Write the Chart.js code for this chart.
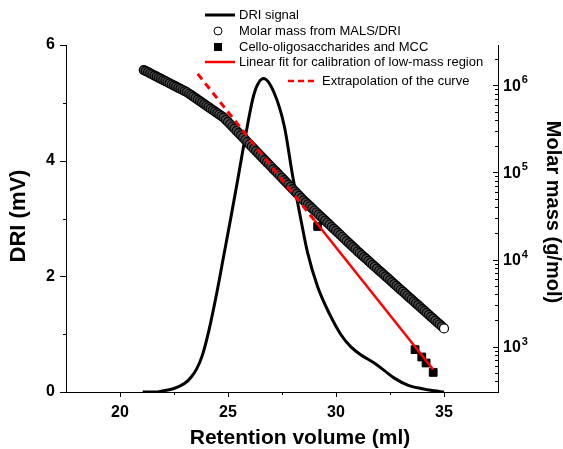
<!DOCTYPE html>
<html>
<head>
<meta charset="utf-8">
<script src="https://cdn.jsdelivr.net/npm/chart.js@4/dist/chart.umd.min.js"></script>
<style>
  body { margin: 0; background: #fff; }
  canvas { display: block; }
</style>
</head>
<body>
<canvas id="gpc-chart" width="563" height="449"></canvas>
<script>
// DRI detector trace (retention volume in ml, signal in mV)
var driX = [21.05, 21.6, 22.0, 22.5, 23.0, 23.3, 23.55, 23.8, 24.12, 24.5, 24.8, 25.1, 25.45, 25.83, 26.22, 26.65,
            27.14, 27.61, 28.0, 28.38, 28.69, 29.15, 29.7, 30.23, 30.69, 31.16, 31.77, 32.24, 32.7, 33.32, 33.94, 34.55, 35.0];
var driY = [0.0, 0.0, 0.02, 0.06, 0.15, 0.26, 0.4, 0.62, 1.07, 1.75, 2.35, 2.95, 3.67, 4.47, 5.17, 5.42,
            5.17, 4.59, 3.72, 2.97, 2.4, 1.82, 1.35, 0.99, 0.78, 0.64, 0.5, 0.37, 0.24, 0.12, 0.06, 0.02, 0.0];

// molar mass from MALS/DRI, stored as log10(g/mol)
var molarX = [
  21.1, 21.2, 21.3, 21.4, 21.5, 21.6, 21.7, 21.8, 21.9, 22.0, 22.1, 22.2, 22.3, 22.4, 22.5, 22.6, 22.7, 22.8, 22.9, 23.0,
  23.1, 23.2, 23.3, 23.4, 23.5, 23.6, 23.7, 23.8, 23.9, 24.0, 24.1, 24.2, 24.3, 24.4, 24.5, 24.6, 24.7, 24.8, 24.9, 25.0,
  25.1, 25.2, 25.3, 25.4, 25.5, 25.6, 25.7, 25.8, 25.9, 26.0, 26.1, 26.2, 26.3, 26.4, 26.5, 26.6, 26.7, 26.8, 26.9, 27.0,
  27.1, 27.2, 27.3, 27.4, 27.5, 27.6, 27.7, 27.8, 27.9, 28.0, 28.1, 28.2, 28.3, 28.4, 28.5, 28.6, 28.7, 28.8, 28.9, 29.0,
  29.1, 29.2, 29.3, 29.4, 29.5, 29.6, 29.7, 29.8, 29.9, 30.0, 30.1, 30.2, 30.3, 30.4, 30.5, 30.6, 30.7, 30.8, 30.9, 31.0,
  31.1, 31.2, 31.3, 31.4, 31.5, 31.6, 31.7, 31.8, 31.9, 32.0, 32.1, 32.2, 32.3, 32.4, 32.5, 32.6, 32.7, 32.8, 32.9, 33.0,
  33.1, 33.2, 33.3, 33.4, 33.5, 33.6, 33.7, 33.8, 33.9, 34.0, 34.1, 34.2, 34.3, 34.4, 34.5, 34.6, 34.7, 34.8, 34.9, 35.0];
var molarLog = [
  6.175, 6.162, 6.150, 6.137, 6.124, 6.111, 6.099, 6.086, 6.073, 6.060, 6.048, 6.035, 6.022, 6.009, 5.997, 5.984, 5.971, 5.958, 5.946, 5.933,
  5.920, 5.903, 5.886, 5.869, 5.852, 5.835, 5.818, 5.801, 5.783, 5.766, 5.749, 5.732, 5.715, 5.698, 5.681, 5.664, 5.647, 5.630, 5.604, 5.579,
  5.553, 5.527, 5.502, 5.476, 5.450, 5.425, 5.399, 5.373, 5.348, 5.322, 5.296, 5.270, 5.245, 5.219, 5.193, 5.168, 5.142, 5.116, 5.091, 5.065,
  5.039, 5.014, 4.988, 4.962, 4.937, 4.911, 4.885, 4.860, 4.834, 4.808, 4.783, 4.757, 4.731, 4.706, 4.680, 4.657, 4.633, 4.610, 4.587, 4.563,
  4.540, 4.516, 4.493, 4.470, 4.446, 4.423, 4.400, 4.376, 4.353, 4.329, 4.306, 4.283, 4.259, 4.236, 4.212, 4.189, 4.166, 4.142, 4.119, 4.095,
  4.073, 4.051, 4.029, 4.007, 3.985, 3.963, 3.940, 3.918, 3.896, 3.874, 3.852, 3.830, 3.808, 3.786, 3.764, 3.741, 3.719, 3.697, 3.675, 3.653,
  3.631, 3.609, 3.587, 3.564, 3.542, 3.520, 3.498, 3.476, 3.454, 3.432, 3.410, 3.388, 3.366, 3.343, 3.321, 3.299, 3.277, 3.255, 3.233, 3.210];

// cello-oligosaccharides and MCC standards (g/mol)
var stdX = [29.15, 33.66, 33.97, 34.17, 34.5];
var stdM = [24000, 925, 762, 650, 507];

// linear calibration fit and its extrapolation (g/mol)
var fitX = [29.0, 34.5];
var fitM = [28200, 546];
var extrapX = [23.6, 29.0];
var extrapM = [1350000, 28200];

var xTicks = [20, 25, 30, 35];
var xMinor = [22.5, 27.5, 32.5];
var yTicks = [0, 2, 4, 6];
var yMinor = [1, 3, 5];
var massExp = [3, 4, 5, 6];

var legendItems = ['DRI signal', 'Molar mass from MALS/DRI', 'Cello-oligosaccharides and MCC',
                   'Linear fit for calibration of low-mass region', 'Extrapolation of the curve'];

var FONT = "'Liberation Sans', Arial, sans-serif";
Chart.defaults.font.family = FONT;
Chart.defaults.color = '#000';

function pts(xs, ys) {
  return xs.map(function (v, i) { return { x: v, y: ys[i] }; });
}

// tick marks, axis titles, log labels with superscripts and the legend
var decorations = {
  id: 'decorations',
  afterDraw: function (chart) {
    var ctx = chart.ctx, a = chart.chartArea;
    var x = chart.scales.x, y = chart.scales.y, y2 = chart.scales.y2;
    ctx.save();
    ctx.strokeStyle = '#000';
    ctx.lineWidth = 1;
    ctx.beginPath();
    function hTick(py, x0, x1) { py = Math.round(py) + 0.5; ctx.moveTo(x0, py); ctx.lineTo(x1, py); }
    function vTick(px, y0, y1) { px = Math.round(px) + 0.5; ctx.moveTo(px, y0); ctx.lineTo(px, y1); }
    xTicks.forEach(function (v) { vTick(x.getPixelForValue(v), a.bottom, a.bottom + 5); });
    xMinor.forEach(function (v) { vTick(x.getPixelForValue(v), a.bottom, a.bottom + 3); });
    yTicks.forEach(function (v) { hTick(y.getPixelForValue(v), a.left, a.left - 6); });
    yMinor.forEach(function (v) { hTick(y.getPixelForValue(v), a.left, a.left - 3); });
    for (var e = 2; e <= 6; e++) {
      for (var m = 1; m <= 9; m++) {
        var val = m * Math.pow(10, e);
        if (val < y2.min || val > y2.max) continue;
        hTick(y2.getPixelForValue(val), a.right, a.right - (m === 1 ? 5 : 3));
      }
    }
    ctx.stroke();

    ctx.fillStyle = '#000';
    ctx.textBaseline = 'middle';
    ctx.textAlign = 'left';
    massExp.forEach(function (e) {
      var py = y2.getPixelForValue(Math.pow(10, e));
      ctx.font = 'bold 16px ' + FONT;
      ctx.fillText('10', a.right + 5, py + 1);
      var w = ctx.measureText('10').width;
      ctx.font = 'bold 11px ' + FONT;
      ctx.fillText(String(e), a.right + 6 + w, py - 5);
    });

    // axis titles
    ctx.textAlign = 'center';
    ctx.font = 'bold 21px ' + FONT;
    ctx.fillText('Retention volume (ml)', 300, 438);
    ctx.save();
    ctx.translate(19, 216);
    ctx.rotate(-Math.PI / 2);
    ctx.font = 'bold 22px ' + FONT;
    ctx.fillText('DRI (mV)', 0, 0);
    ctx.restore();
    ctx.save();
    ctx.translate(553, 212);
    ctx.rotate(Math.PI / 2);
    ctx.font = 'bold 20px ' + FONT;
    ctx.fillText('Molar mass (g/mol)', 0, 0);
    ctx.restore();

    // legend
    ctx.textAlign = 'left';
    ctx.font = '13px ' + FONT;
    ctx.lineWidth = 3;
    ctx.strokeStyle = '#000';
    ctx.beginPath(); ctx.moveTo(205, 15); ctx.lineTo(235, 15); ctx.stroke();
    ctx.fillText(legendItems[0], 239, 15);

    ctx.lineWidth = 1;
    ctx.beginPath(); ctx.arc(218, 31, 4, 0, Math.PI * 2);
    ctx.fillStyle = '#fff'; ctx.fill(); ctx.stroke();
    ctx.fillStyle = '#000';
    ctx.fillText(legendItems[1], 239, 31);

    ctx.fillRect(214, 43, 8, 8);
    ctx.fillText(legendItems[2], 239, 47);

    ctx.strokeStyle = '#ff0000';
    ctx.lineWidth = 2.5;
    ctx.beginPath(); ctx.moveTo(205, 62); ctx.lineTo(235, 62); ctx.stroke();
    ctx.fillText(legendItems[3], 239, 62);

    ctx.setLineDash([6, 4]);
    ctx.beginPath(); ctx.moveTo(288, 81); ctx.lineTo(318, 81); ctx.stroke();
    ctx.setLineDash([]);
    ctx.fillText(legendItems[4], 322, 81);
    ctx.restore();
  }
};

var ctx = document.getElementById('gpc-chart').getContext('2d');

var gpcChart = new Chart(ctx, {
  type: 'scatter',
  data: {
    datasets: [{
      label: legendItems[3],
      data: pts(fitX, fitM),
      yAxisID: 'y2',
      showLine: true,
      borderColor: '#ff0000',
      borderWidth: 2.5,
      pointRadius: 0,
      order: 0
    }, {
      label: legendItems[4],
      data: pts(extrapX, extrapM),
      yAxisID: 'y2',
      showLine: true,
      borderColor: '#ff0000',
      borderWidth: 3,
      borderDash: [7, 5],
      pointRadius: 0,
      order: 0
    }, {
      label: legendItems[2],
      data: pts(stdX, stdM),
      yAxisID: 'y2',
      pointStyle: 'rect',
      pointRadius: 5.5,
      backgroundColor: '#000',
      borderColor: '#000',
      order: 1
    }, {
      label: legendItems[1],
      data: pts(molarX, molarLog.map(function (v) { return Math.pow(10, v); })),
      yAxisID: 'y2',
      pointRadius: 4.5,
      pointBorderWidth: 1.2,
      backgroundColor: function (c) { return c.dataIndex === molarX.length - 1 ? '#ffffff' : '#4d4d4d'; },
      borderColor: '#000',
      order: 2
    }, {
      label: legendItems[0],
      data: pts(driX, driY),
      yAxisID: 'y',
      showLine: true,
      borderColor: '#000',
      borderWidth: 3,
      cubicInterpolationMode: 'monotone',
      pointRadius: 0,
      order: 3
    }]
  },
  options: {
    responsive: false,
    animation: false,
    layout: { padding: { top: 45 } },
    plugins: {
      legend: { display: false },
      tooltip: { enabled: false }
    },
    scales: {
      x: {
        type: 'linear',
        min: 17.5,
        max: 37.5,
        afterBuildTicks: function (s) { s.ticks = xTicks.map(function (v) { return { value: v }; }); },
        afterFit: function (s) { s.height = 57; },
        grid: { display: false, drawTicks: false },
        border: { display: true, color: '#000', width: 1 },
        ticks: { padding: 11, font: { size: 16, weight: 'bold' } }
      },
      y: {
        type: 'linear',
        position: 'left',
        min: 0,
        max: 6,
        afterBuildTicks: function (s) { s.ticks = yTicks.map(function (v) { return { value: v }; }); },
        afterFit: function (s) { s.width = 66; },
        grid: { display: false, drawTicks: false },
        border: { display: true, color: '#000', width: 1 },
        ticks: { padding: 11, font: { size: 16, weight: 'bold' } }
      },
      y2: {
        type: 'logarithmic',
        position: 'right',
        min: 302,
        max: 2900000,
        afterFit: function (s) { s.width = 65; },
        grid: { display: false, drawTicks: false },
        border: { display: true, color: '#000', width: 1 },
        ticks: { display: false }
      }
    }
  },
  plugins: [decorations]
});
</script>
</body>
</html>
